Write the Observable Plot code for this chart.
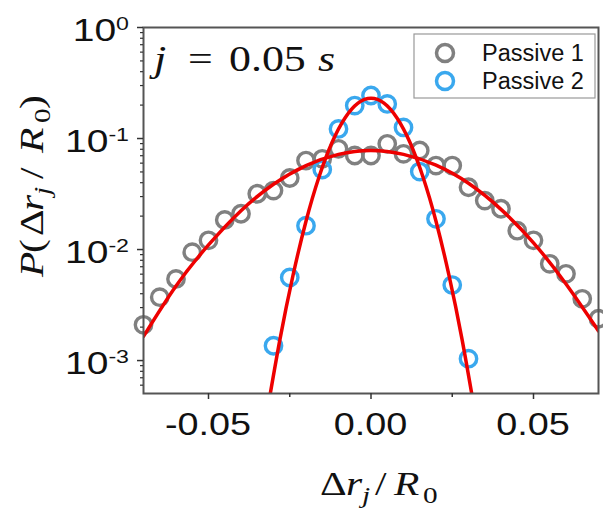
<!DOCTYPE html>
<html><head><meta charset="utf-8">
<script src="https://cdn.jsdelivr.net/npm/d3@7"></script>
<script src="https://cdn.jsdelivr.net/npm/@observablehq/plot@0.6"></script>
<style>
body{margin:0;background:#fff}
#chart{width:603px;height:512px}
</style>
</head><body><div id="chart"></div>
<script>
// Passive 1 (grey circles)
const p1X = [-0.070,-0.065,-0.060,-0.055,-0.050,-0.045,-0.040,-0.035,-0.030,-0.025,-0.020,-0.015,-0.010,-0.005,0.000,0.005,0.010,0.015,0.020,0.025,0.030,0.035,0.040,0.045,0.050,0.055,0.060,0.065,0.070];
const p1Y = [2.10e-3,3.72e-3,5.44e-3,9.46e-3,1.21e-2,1.85e-2,2.10e-2,3.18e-2,3.40e-2,4.41e-2,6.33e-2,6.56e-2,8.07e-2,7.03e-2,7.03e-2,8.96e-2,7.28e-2,7.80e-2,5.71e-2,5.71e-2,3.64e-2,2.76e-2,2.33e-2,1.48e-2,1.21e-2,7.43e-3,6.04e-3,3.60e-3,2.38e-3];
// Passive 2 (blue circles)
const p2X = [-0.030,-0.025,-0.020,-0.015,-0.010,-0.005,0.000,0.005,0.010,0.015,0.020,0.025,0.030];
const p2Y = [1.36e-3,5.6e-3,1.64e-2,5.26e-2,0.122,0.198,0.244,0.205,0.126,5.04e-2,1.89e-2,4.79e-3,1.04e-3];
// Fit curves (red)
const fit1X = [-0.07,-0.06,-0.05,-0.04,-0.03,-0.02,-0.01,0.00,0.01,0.02,0.03,0.04,0.05,0.06,0.07];
const fit1Y = [1.65e-3,4.7e-3,1.10e-2,2.24e-2,3.87e-2,5.70e-2,7.20e-2,7.80e-2,7.20e-2,5.75e-2,3.95e-2,2.30e-2,1.15e-2,4.9e-3,1.85e-3];
const fit2X = [-0.032,-0.028,-0.024,-0.020,-0.016,-0.012,-0.008,-0.004,0.000,0.004,0.008,0.012,0.016,0.020,0.024,0.028,0.032];
const fit2Y = [3.4e-4,1.56e-3,5.85e-3,1.80e-2,4.50e-2,9.20e-2,0.153,0.208,0.230,0.208,0.153,9.20e-2,4.50e-2,1.80e-2,5.85e-3,1.56e-3,3.4e-4];

const seriesNames = ["Passive 1","Passive 2"];
const seriesColors = ["#808080","#3aa8ee"];
const fitColor = "#ee0000";

const xTicks = [-0.05,0,0.05];
const xMinorTicks = [-0.025,0.025];
const yTicks = [1e-3,1e-2,1e-1,1];
const yDomain = [5.05e-4, 1];
const yMinorTicks = [];
for (let e = -4; e < 0; e++) for (let m = 2; m <= 9; m++) {
  const v = m * Math.pow(10, e);
  if (v >= yDomain[0] && v <= yDomain[1]) yMinorTicks.push(v);
}

const d1 = p1X.map((x,i)=>({x, y:p1Y[i]}));
const d2 = p2X.map((x,i)=>({x, y:p2Y[i]}));
const f1 = fit1X.map((x,i)=>({x, y:fit1Y[i]}));
const f2 = fit2X.map((x,i)=>({x, y:fit2Y[i]}));

const axisColor = "#333";
const plot = Plot.plot({
  width: 603, height: 512,
  marginLeft: 143, marginRight: 5, marginTop: 27, marginBottom: 119,
  style: {fontFamily: "Liberation Sans", background: "white", color: "#111"},
  x: {domain: [-0.07, 0.07], axis: null},
  y: {type: "log", domain: yDomain, axis: null},
  marks: [
    Plot.dot(d1, {x:"x", y:"y", r:8.2, stroke: seriesColors[0], strokeWidth: 3.4, fill: "none"}),
    Plot.dot(d2, {x:"x", y:"y", r:8.2, stroke: seriesColors[1], strokeWidth: 3.4, fill: "none"}),
    Plot.line(f1, {x:"x", y:"y", stroke: fitColor, strokeWidth: 3.5, curve: "natural", clip: true}),
    Plot.line(f2, {x:"x", y:"y", stroke: fitColor, strokeWidth: 3.5, curve: "natural", clip: true}),
    Plot.frame({stroke: "#555", strokeWidth: 2}),
    Plot.axisX({ticks: xTicks, tickSize: 6, strokeWidth: 1.5, stroke: axisColor, tickFormat: () => "", label: null}),
    Plot.axisX({ticks: xMinorTicks, tickSize: 4, strokeWidth: 1.5, stroke: axisColor, tickFormat: () => "", label: null}),
    Plot.axisY({ticks: yTicks, tickSize: 6, strokeWidth: 1.5, stroke: axisColor, tickFormat: () => "", label: null}),
    Plot.axisY({ticks: yMinorTicks, tickSize: 3, strokeWidth: 1.2, stroke: axisColor, tickFormat: () => "", label: null})
  ]
});
document.getElementById("chart").appendChild(plot);

const svg = d3.select(plot);
const xs = plot.scale("x");
const ys = plot.scale("y");
const K = 1.22; // horizontal stretch of the reference's lettering

// x tick labels
xTicks.forEach(v => {
  svg.append("g").attr("transform",`translate(${xs.apply(v)},435) scale(${K},1)`)
    .append("text").attr("text-anchor","middle").attr("font-family","Liberation Sans")
    .attr("font-size",31).attr("fill","#111").text(v.toFixed(2));
});

// y tick labels with superscript exponents
yTicks.forEach(v => {
  const t = svg.append("g").attr("transform",`translate(129,${ys.apply(v)+14}) scale(${K},1)`)
    .append("text").attr("text-anchor","end").attr("font-family","Liberation Sans")
    .attr("font-size",32).attr("fill","#111");
  t.append("tspan").text("10");
  t.append("tspan").attr("font-size",19).attr("dy",-11).text(String(Math.round(Math.log10(v))));
});

// helper for stretched math text; pieces: [text, x (final px offset), italic, dy, size]
const serif = "Liberation Serif";
function mathText(transform, size, pieces) {
  const t = svg.append("g").attr("transform", transform + ` scale(${K},1)`)
    .append("text").attr("font-family",serif).attr("font-size",size).attr("fill","#111")
    .attr("text-anchor","start").attr("y",0);
  pieces.forEach(([s, x, it, dy, fs]) => {
    const sp = t.append("tspan").attr("x", x / K).attr("y", dy || 0).text(s);
    if (it) sp.attr("font-style","italic");
    if (fs) sp.attr("font-size", fs);
  });
}

// inset text j = 0.05 s
mathText("translate(154,71)", 36, [["j",0,true],["=",34,false],["0.05",75,false],["s",164,true]]);

// x axis label  Δr_j / R_0
mathText("translate(320,495)", 34, [["Δ",0],["r",26,true],["j",42,true,8,24],["/",55],["R",74,true],["0",103,false,8,24]]);

// y axis label  P(Δr_j / R_0)
mathText("translate(43,277) rotate(-90)", 34, [["P",0,true],["(",24],["Δ",41],["r",66,true],["j",82,true,7,24],
  ["/",98],["R",124,true],["0",154,false,7,24],[")",168]]);

// legend
const lg = svg.append("g");
lg.append("rect").attr("x",414).attr("y",34).attr("width",181).attr("height",64)
  .attr("fill","white").attr("stroke","#999").attr("stroke-width",1.2);
seriesNames.forEach((name,i) => {
  const cy = 53 + i*28;
  lg.append("circle").attr("cx",445).attr("cy",cy).attr("r",8.5).attr("fill","none")
    .attr("stroke",seriesColors[i]).attr("stroke-width",3.5);
  lg.append("text").attr("x",482).attr("y",cy+7.5).attr("text-anchor","start").attr("font-family","Liberation Sans")
    .attr("font-size",23.5).attr("fill","#111").text(name);
});
</script>
</body></html>
